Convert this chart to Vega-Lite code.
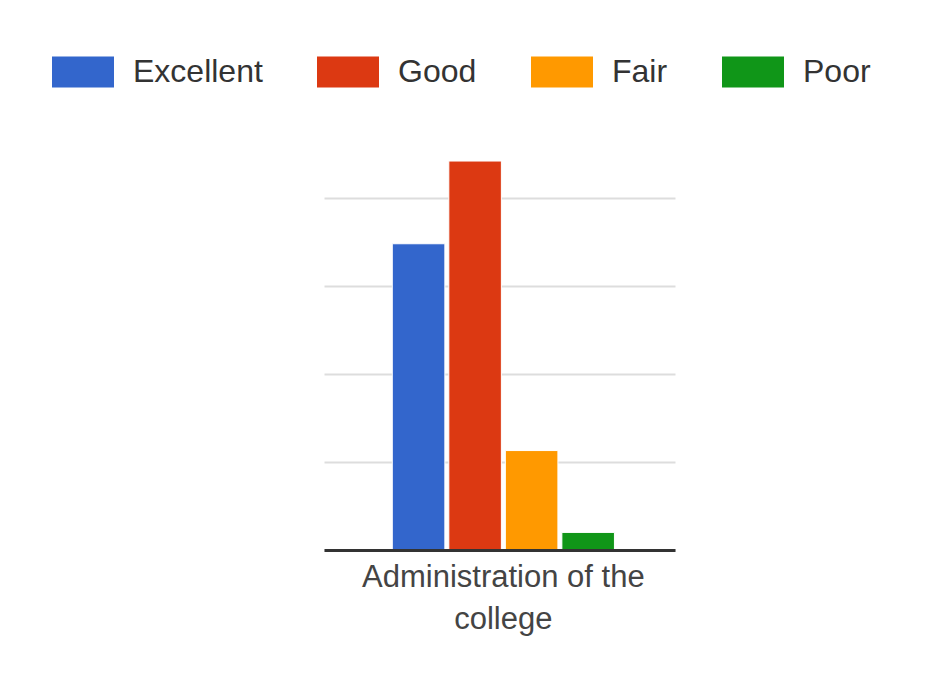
{
  "$schema": "https://vega.github.io/schema/vega-lite/v6.json",
  "width": 351,
  "height": 396,
  "autosize": {"type": "none"},
  "padding": {"left": 324, "top": 154, "right": 258, "bottom": 132},
  "background": "white",
  "data": {
    "values": [
      {"category": "Administration of the college", "rating": "Excellent", "value": 34.8},
      {"category": "Administration of the college", "rating": "Good", "value": 44.2},
      {"category": "Administration of the college", "rating": "Fair", "value": 11.3},
      {"category": "Administration of the college", "rating": "Poor", "value": 2}
    ]
  },
  "mark": {"type": "bar", "stroke": "white", "strokeWidth": 1},
  "encoding": {
    "x": {
      "field": "category",
      "type": "nominal",
      "scale": {"paddingInner": 0, "paddingOuter": 0.29, "align": 0.53},
      "axis": {
        "title": null,
        "labelExpr": "['Administration of the', 'college']",
        "labelAngle": 0,
        "labelFont": "Liberation Sans",
        "labelFontSize": 31,
        "labelColor": "#444444",
        "labelLineHeight": 42,
        "labelBaseline": "top",
        "labelPadding": 12,
        "labelLimit": 0,
        "ticks": false,
        "domain": true,
        "domainColor": "#333333",
        "domainWidth": 3,
        "zindex": 1
      }
    },
    "xOffset": {
      "field": "rating",
      "type": "nominal",
      "sort": ["Excellent", "Good", "Fair", "Poor"],
      "scale": {"paddingInner": 0.07, "paddingOuter": 0}
    },
    "y": {
      "field": "value",
      "type": "quantitative",
      "scale": {"domain": [0, 45], "nice": false},
      "axis": {
        "title": null,
        "values": [0, 10, 20, 30, 40],
        "labels": false,
        "ticks": false,
        "domain": false,
        "grid": true,
        "gridColor": "#dddddd",
        "gridWidth": 2
      }
    },
    "color": {
      "field": "rating",
      "type": "nominal",
      "sort": ["Excellent", "Good", "Fair", "Poor"],
      "scale": {
        "domain": ["Excellent", "Good", "Fair", "Poor"],
        "range": ["#3366cc", "#dc3912", "#ff9900", "#109618"]
      },
      "legend": {
        "title": null,
        "orient": "none",
        "legendX": -272,
        "legendY": -113,
        "direction": "horizontal",
        "columns": 4,
        "columnPadding": 54,
        "padding": 0,
        "symbolType": "M-1,-0.5H1V0.5H-1Z",
        "symbolSize": 3844,
        "symbolStrokeWidth": 0,
        "symbolOpacity": 1,
        "labelFont": "Liberation Sans",
        "labelFontSize": 32,
        "labelColor": "#333333",
        "labelOffset": 19,
        "labelLimit": 0
      }
    }
  },
  "config": {
    "view": {"stroke": null}
  }
}
